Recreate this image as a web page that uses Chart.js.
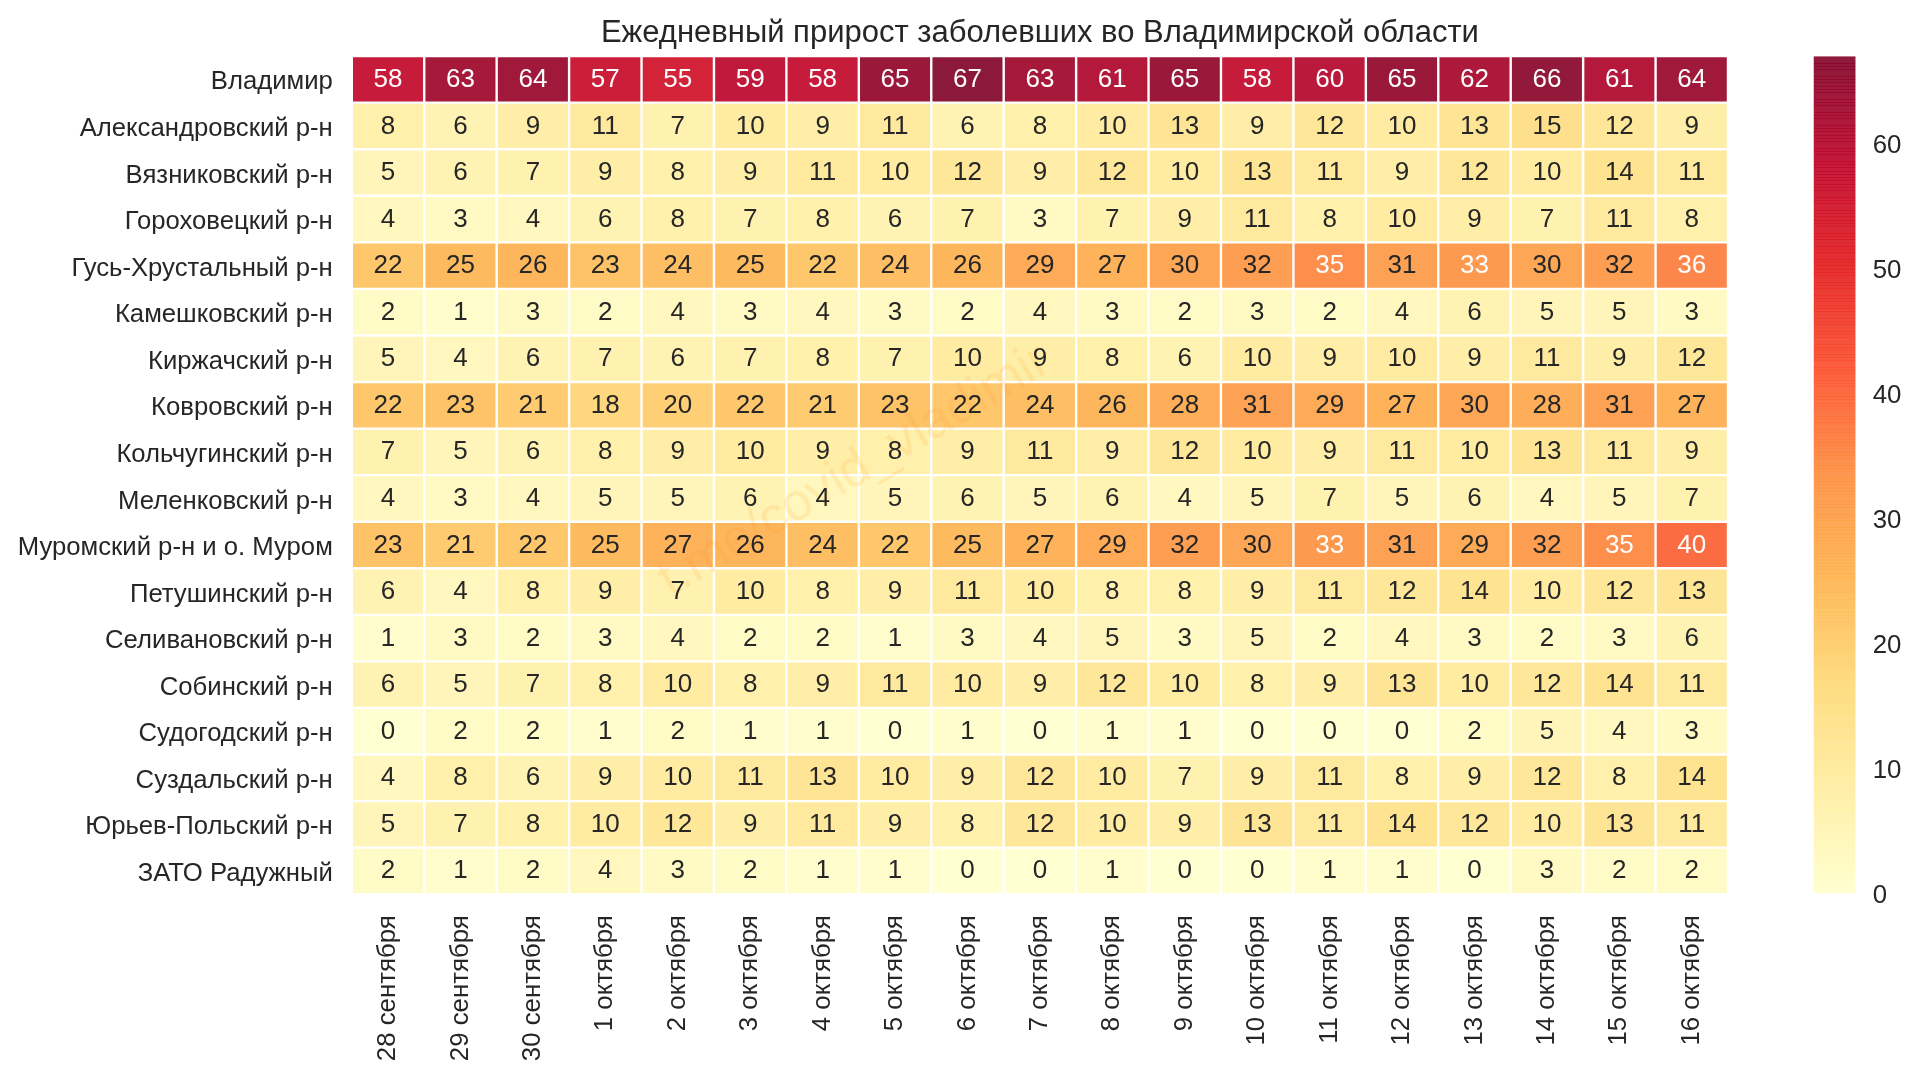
<!DOCTYPE html>
<html><head><meta charset="utf-8">
<script src="https://cdn.jsdelivr.net/npm/chart.js@4"></script>
<style>
html,body{margin:0;padding:0;background:#fff;overflow:hidden}
#wrap{position:relative;width:1920px;height:1076px}
canvas{position:absolute;top:0;filter:blur(0.45px)}
#main{left:0}
#cbar{left:1780px}
</style></head><body>
<div id="wrap"><canvas id="main" width="1920" height="1076"></canvas><canvas id="cbar" width="140" height="1076"></canvas></div>
<script>
const titleText = 'Ежедневный прирост заболевших во Владимирской области';
const watermarkText = 't.me/covid_vladimir';
const dates = ['28 сентября','29 сентября','30 сентября','1 октября','2 октября','3 октября','4 октября','5 октября','6 октября','7 октября','8 октября','9 октября','10 октября','11 октября','12 октября','13 октября','14 октября','15 октября','16 октября'];
const regions = ['Владимир','Александровский р-н','Вязниковский р-н','Гороховецкий р-н','Гусь-Хрустальный р-н','Камешковский р-н','Киржачский р-н','Ковровский р-н','Кольчугинский р-н','Меленковский р-н','Муромский р-н и о. Муром','Петушинский р-н','Селивановский р-н','Собинский р-н','Судогодский р-н','Суздальский р-н','Юрьев-Польский р-н','ЗАТО Радужный'];
const vladimir = [58,63,64,57,55,59,58,65,67,63,61,65,58,60,65,62,66,61,64];
const aleksandrov = [8,6,9,11,7,10,9,11,6,8,10,13,9,12,10,13,15,12,9];
const vyazniki = [5,6,7,9,8,9,11,10,12,9,12,10,13,11,9,12,10,14,11];
const gorokhovets = [4,3,4,6,8,7,8,6,7,3,7,9,11,8,10,9,7,11,8];
const gus = [22,25,26,23,24,25,22,24,26,29,27,30,32,35,31,33,30,32,36];
const kameshkovo = [2,1,3,2,4,3,4,3,2,4,3,2,3,2,4,6,5,5,3];
const kirzhach = [5,4,6,7,6,7,8,7,10,9,8,6,10,9,10,9,11,9,12];
const kovrov = [22,23,21,18,20,22,21,23,22,24,26,28,31,29,27,30,28,31,27];
const kolchugino = [7,5,6,8,9,10,9,8,9,11,9,12,10,9,11,10,13,11,9];
const melenki = [4,3,4,5,5,6,4,5,6,5,6,4,5,7,5,6,4,5,7];
const murom = [23,21,22,25,27,26,24,22,25,27,29,32,30,33,31,29,32,35,40];
const petushki = [6,4,8,9,7,10,8,9,11,10,8,8,9,11,12,14,10,12,13];
const selivanovo = [1,3,2,3,4,2,2,1,3,4,5,3,5,2,4,3,2,3,6];
const sobinka = [6,5,7,8,10,8,9,11,10,9,12,10,8,9,13,10,12,14,11];
const sudogda = [0,2,2,1,2,1,1,0,1,0,1,1,0,0,0,2,5,4,3];
const suzdal = [4,8,6,9,10,11,13,10,9,12,10,7,9,11,8,9,12,8,14];
const yuryev = [5,7,8,10,12,9,11,9,8,12,10,9,13,11,14,12,10,13,11];
const raduzhny = [2,1,2,4,3,2,1,1,0,0,1,0,0,1,1,0,3,2,2];
const rows = [vladimir,aleksandrov,vyazniki,gorokhovets,gus,kameshkovo,kirzhach,kovrov,kolchugino,melenki,murom,petushki,selivanovo,sobinka,sudogda,suzdal,yuryev,raduzhny];
const colorbarTicks = [0,10,20,30,40,50,60];
const vMax = 67;
const ylorrd = [[255,255,204],[255,237,160],[254,217,118],[254,178,76],[253,141,60],[252,78,42],[227,26,28],[189,0,38],[128,0,38]];
function rgbAt(v){
  const t = Math.max(0,Math.min(1,v/vMax))*(ylorrd.length-1);
  const i = Math.min(Math.floor(t),ylorrd.length-2), f = t-i;
  return ylorrd[i].map((c,k)=>Math.round(c+(ylorrd[i+1][k]-c)*f));
}
function fill(v,a){const c=rgbAt(v);return `rgba(${c[0]},${c[1]},${c[2]},${a})`;}
const FONT='"Liberation Sans", Arial, sans-serif', INK='#262626';
Chart.defaults.font.family=FONT;

const annotate={id:'annotate',afterDatasetsDraw(chart){
  const g=chart.ctx;
  const x=chart.scales.x, y=chart.scales.y;
  // watermark
  g.save();
  g.translate(x.getPixelForValue(6.44),y.getPixelForValue(8.91));
  g.rotate(-30.8*Math.PI/180);
  g.textAlign='center'; g.textBaseline='middle';
  g.font='52px '+FONT; g.fillStyle='rgba(255,150,20,0.13)';
  g.fillText(watermarkText,0,0);
  g.restore();
  // cell values
  g.save();
  g.font='26px '+FONT; g.textAlign='center'; g.textBaseline='middle';
  rows.forEach((vals,r)=>{
    const els=chart.getDatasetMeta(r).data;
    vals.forEach((v,c)=>{
      const p=els[c];
      g.fillStyle = v>=33 ? '#ffffff' : INK;
      g.fillText(String(v),p.x,(p.y+p.base)/2+0.4);
    });
  });
  g.restore();
}};

new Chart(document.getElementById('main'),{
  type:'bar',
  data:{labels:dates,datasets:rows.map((vals,r)=>({
    label:regions[r],
    data:vals.map(()=>[r,r+1]),
    backgroundColor:vals.map(v=>fill(v,0.9)),
    borderColor:'#ffffff',borderWidth:1.2,borderSkipped:false,inflateAmount:0,
    barPercentage:1,categoryPercentage:1,grouped:false
  }))},
  options:{
    responsive:false,animation:false,devicePixelRatio:1,
    layout:{padding:{left:0,right:192,top:0,bottom:0}},
    plugins:{legend:{display:false},tooltip:{enabled:false},
      title:{display:true,fullSize:false,text:titleText,color:INK,font:{size:31,weight:'normal',family:FONT,lineHeight:1.2},padding:{top:14.5,bottom:4.4}}},
    scales:{
      x:{type:'category',grid:{display:false,drawTicks:false},border:{display:false},
        ticks:{color:INK,font:{size:25.8},minRotation:90,maxRotation:90,autoSkip:false,padding:21,labelOffset:0},
        afterFit(s){s.height=181.8;}},
      y:{type:'linear',reverse:true,min:0,max:18,grid:{display:false,drawTicks:false},border:{display:false},
        afterBuildTicks(s){s.ticks=regions.map((_,i)=>({value:i+0.5}));},
        ticks:{color:INK,font:{size:25.7},padding:19,autoSkip:false,labelOffset:3,callback:v=>regions[Math.floor(v)]},
        afterFit(s){s.width=351.8;}}
    }
  },
  plugins:[annotate]
});

new Chart(document.getElementById('cbar'),{
  type:'bar',
  data:{labels:[''],datasets:[{data:[[0,vMax]],barPercentage:1,categoryPercentage:1,borderWidth:0,inflateAmount:0,
    backgroundColor(ctx){
      const area=ctx.chart.chartArea; if(!area) return 'transparent';
      const g=ctx.chart.ctx.createLinearGradient(0,area.bottom,0,area.top);
      const N=256;
      for(let i=0;i<N;i++){
        const v=vMax*(i+0.5)/N;
        g.addColorStop(i/N,fill(v,0.9));
        g.addColorStop((i+0.75)/N,fill(v,0.9));
        g.addColorStop((i+0.75)/N,fill(v,0.96));
        g.addColorStop((i+1)/N,fill(v,0.96));
      }
      return g;
    }}]},
  options:{
    responsive:false,animation:false,devicePixelRatio:1,
    layout:{padding:{left:33.5,right:0,top:56.3,bottom:183}},
    plugins:{legend:{display:false},tooltip:{enabled:false}},
    scales:{
      x:{display:false},
      y:{type:'linear',position:'right',min:0,max:vMax,grid:{display:false,drawTicks:false},border:{display:false},
        afterBuildTicks(s){s.ticks=colorbarTicks.map(v=>({value:v}));},
        ticks:{color:INK,font:{size:25.8},padding:17,labelOffset:2.5},
        afterFit(s){s.width=140-75.7;}}
    }
  }
});
</script>
</body></html>
